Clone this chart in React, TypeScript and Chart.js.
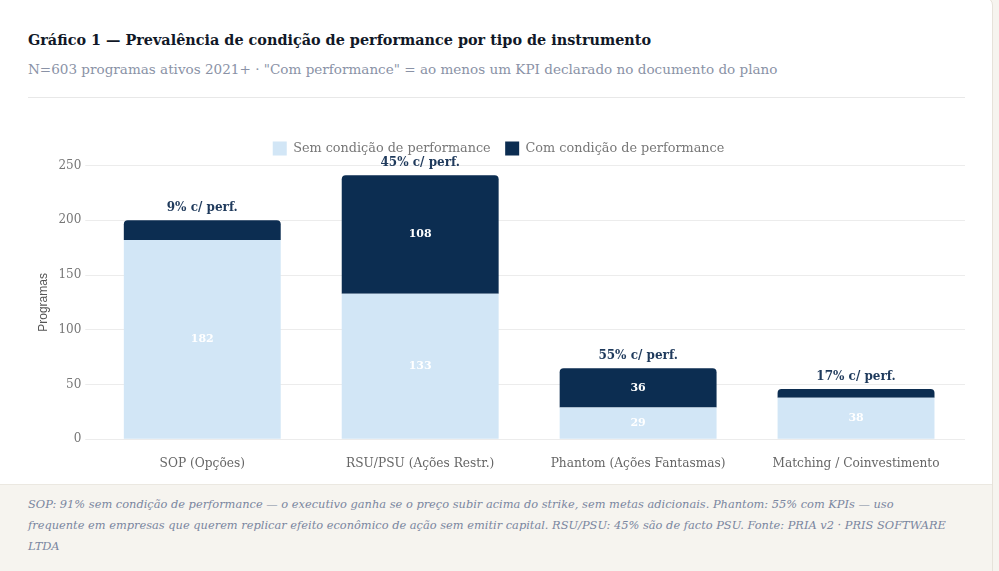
import { useEffect, useRef } from "react";
import { Chart, registerables } from "chart.js";

Chart.register(...registerables);

const instrumentos = [
  "SOP (Opções)",
  "RSU/PSU (Ações Restr.)",
  "Phantom (Ações Fantasmas)",
  "Matching / Coinvestimento",
];
const semPerformance = [182, 133, 29, 38];
const comPerformance = [18, 108, 36, 8];
const yTicks = [0, 50, 100, 150, 200, 250];

const SERIF = "'DejaVu Serif', serif";
const LIGHT = "#d2e6f6";
const DARK = "#0c2d51";

// rótulos: valores dentro das barras e % no topo da pilha
const labelsPlugin = {
  id: "barLabels",
  afterDatasetsDraw(chart: any) {
    const ctx = chart.ctx;
    ctx.save();
    ctx.textAlign = "center";
    ctx.textBaseline = "middle";
    chart.data.datasets.forEach((ds: any, di: number) => {
      const meta = chart.getDatasetMeta(di);
      meta.data.forEach((bar: any, i: number) => {
        const v = ds.data[i];
        const h = Math.abs(bar.base - bar.y);
        if (h < 24) return;
        ctx.font = `bold 11px ${SERIF}`;
        ctx.fillStyle = "#ffffff";
        ctx.fillText(String(v), bar.x, (bar.y + bar.base) / 2);
      });
    });
    const top = chart.getDatasetMeta(1);
    top.data.forEach((bar: any, i: number) => {
      const total = semPerformance[i] + comPerformance[i];
      const pct = Math.round((comPerformance[i] / total) * 100);
      ctx.font = `bold 12px ${SERIF}`;
      ctx.fillStyle = "#1f3a5c";
      ctx.textBaseline = "bottom";
      ctx.fillText(`${pct}% c/ perf.`, bar.x, bar.y - 6);
    });
    ctx.restore();
  },
};

const PrevalenciaChart = () => {
  const canvasRef = useRef<HTMLCanvasElement>(null);
  const chartRef = useRef<Chart | null>(null);

  useEffect(() => {
    if (!canvasRef.current) return;
    const config: any = {
      type: "bar",
      data: {
        labels: instrumentos,
        datasets: [
          {
            label: "Sem condição de performance",
            data: semPerformance,
            backgroundColor: LIGHT,
            borderRadius: 0,
            barPercentage: 0.72,
            categoryPercentage: 1,
          },
          {
            label: "Com condição de performance",
            data: comPerformance,
            backgroundColor: DARK,
            borderRadius: { topLeft: 4, topRight: 4, bottomLeft: 0, bottomRight: 0 },
            borderSkipped: false,
            barPercentage: 0.72,
            categoryPercentage: 1,
          },
        ],
      },
      options: {
        animation: false,
        responsive: true,
        maintainAspectRatio: false,
        layout: { padding: { top: 0, right: 0, bottom: 0, left: 4 } },
        plugins: {
          legend: {
            position: "top",
            labels: {
              boxWidth: 14,
              boxHeight: 14,
              color: "#777",
              font: { family: SERIF, size: 12.8 },
              padding: 14.5,
            },
          },
          tooltip: { enabled: false },
        },
        scales: {
          x: {
            stacked: true,
            grid: { display: false },
            border: { display: false },
            ticks: { color: "#666", font: { family: SERIF, size: 12.2 }, padding: 9 },
          },
          y: {
            stacked: true,
            min: 0,
            max: 250,
            afterBuildTicks: (axis: any) => {
              axis.ticks = yTicks.map((v) => ({ value: v }));
            },
            grid: { color: "#ececec", tickLength: 8 },
            border: { display: false },
            ticks: { color: "#777", font: { family: SERIF, size: 12 }, padding: 4 },
            title: {
              display: true,
              text: "Programas",
              color: "#555",
              font: { family: "'Liberation Sans', Arial, sans-serif", size: 12 },
            },
          },
        },
      },
      plugins: [labelsPlugin],
    };
    chartRef.current = new Chart(canvasRef.current, config);
    return () => {
      chartRef.current?.destroy();
      chartRef.current = null;
    };
  }, []);

  return <canvas ref={canvasRef} />;
};

export default function App() {
  return (
    <div
      style={{
        position: "absolute",
        left: 0,
        top: 0,
        width: 999,
        height: 571,
        overflow: "hidden",
        background: "#f6f4ef",
        fontFamily: SERIF,
      }}
    >
      <div
        style={{
          position: "absolute",
          left: -3,
          top: -3,
          width: 996,
          background: "#fff",
          border: "1px solid #e6e2da",
          borderRadius: 8,
          boxSizing: "border-box",
          overflow: "hidden",
        }}
      >
        <div style={{ padding: "31px 27px 0 30px" }}>
          <div style={{ fontSize: 14.4, fontWeight: "bold", color: "#111827", lineHeight: "22px" }}>
            Gráfico 1 — Prevalência de condição de performance por tipo de instrumento
          </div>
          <div style={{ fontSize: 13.55, color: "#8a92a6", marginTop: 8, lineHeight: "20px" }}>
            N=603 programas ativos 2021+ · "Com performance" = ao menos um KPI declarado no documento do plano
          </div>
          <div style={{ borderTop: "1px solid #e8e8e8", marginTop: 18, width: 937 }} />
          <div style={{ position: "relative", height: 353, marginTop: 29, width: 937 }}>
            <PrevalenciaChart />
          </div>
        </div>
        <div
          style={{
            marginTop: 4,
            borderTop: "1px solid #ebe8e1",
            background: "#f6f4ef",
            padding: "9px 30px 30px 30px",
            fontStyle: "italic",
            fontSize: 11.4,
            lineHeight: "21px",
            color: "#7a86a0",
          }}
        >
          <div style={{ width: 920 }}>
            SOP: 91% sem condição de performance — o executivo ganha se o preço subir acima do strike, sem metas
            adicionais. Phantom: 55% com KPIs — uso frequente em empresas que querem replicar efeito econômico de ação
            sem emitir capital. RSU/PSU: 45% são de facto PSU. Fonte: PRIA v2 · PRIS SOFTWARE LTDA
          </div>
        </div>
      </div>
    </div>
  );
}
